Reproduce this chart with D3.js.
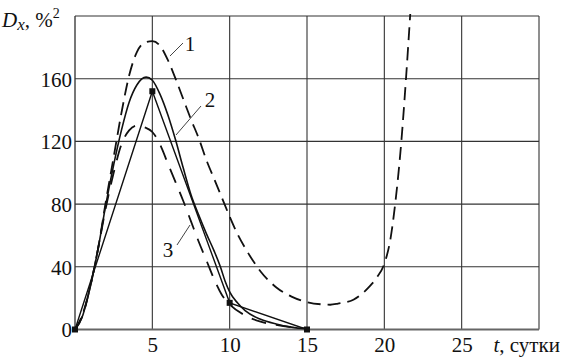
<!DOCTYPE html>
<html>
<head>
<meta charset="utf-8">
<script src="https://d3js.org/d3.v7.min.js"></script>
</head>
<body style="margin:0; background:#fff">
<svg id="chart" width="561" height="361"></svg>
<script>
// axis ticks
var xTicks = [5, 10, 15, 20, 25];
var yTicks = [0, 40, 80, 120, 160];
var xGrid = [0, 5, 10, 15, 20, 25, 30];
var yGrid = [0, 40, 80, 120, 160, 200];

// curve 1 (long dashes)
var t1 = [0, 0.5, 1, 1.5, 2, 2.5, 3, 3.5, 4, 4.5, 5, 5.5, 6, 6.5, 7, 7.5, 8, 8.5, 9, 9.5, 10, 10.5, 11, 11.5, 12, 13, 14, 15, 16, 16.5, 17, 18, 19, 19.5, 20, 20.4, 20.7, 21.1, 21.4, 21.7];
var d1 = [0, 10, 28, 52, 82, 110, 138, 162, 177, 183, 184, 181, 172, 160, 147, 134, 122, 108, 96, 84, 72, 61, 52, 44, 37, 27, 21, 17.5, 16, 15.8, 16.5, 19, 27, 33, 42, 58, 80, 120, 160, 205];

// curve 2 (solid, smooth)
var t2 = [0, 0.5, 1, 1.5, 2, 2.5, 3, 3.5, 4, 4.6, 5, 5.5, 6, 6.5, 7, 7.5, 8, 8.5, 9, 9.4, 9.7, 10, 10.5, 11, 12, 13, 14, 15];
var d2 = [0, 9, 28, 52, 80, 105, 127, 145, 156, 161, 159, 150, 137, 121, 103, 86, 73, 61, 50, 40, 31, 24, 17, 12, 6.5, 3.5, 1.5, 0.3];

// measured points (solid polyline with squares)
var tObs = [0, 5, 10, 15];
var dObs = [0, 152, 17, 0];

// curve 3 (short dashes)
var t3 = [0, 0.5, 1, 1.5, 2, 2.5, 3, 3.5, 4, 4.5, 5, 5.5, 6, 6.5, 7, 7.5, 8, 8.5, 9, 9.5, 10, 11, 12, 13, 14, 15];
var d3c = [0, 9, 28, 52, 78, 100, 118, 127, 130, 129, 126, 118, 106, 94, 82, 69, 56, 44, 32, 22, 16, 9, 5, 3, 1.5, 0.5];

// curve labels with leader lines (pixel positions)
var labels = [
  {name: '1', tx: 190, ty: 51, lx1: 170, ly1: 56, lx2: 183, ly2: 43},
  {name: '2', tx: 210, ty: 107, lx1: 176, ly1: 135, lx2: 201, ly2: 106},
  {name: '3', tx: 168, ty: 257, lx1: 177, ly1: 245, lx2: 190, ly2: 225}
];

var svg = d3.select('#chart');
var margin = {left: 75, top: 16, right: 22, bottom: 31.5};
var width = 561 - margin.left - margin.right,
    height = 361 - margin.top - margin.bottom;

var x = d3.scaleLinear().domain([0, 30]).range([0, width]);
var y = d3.scaleLinear().domain([0, 200]).range([height, 0]);

var g = svg.append('g')
  .attr('transform', 'translate(' + margin.left + ',' + margin.top + ')');

// grid
g.append('g').selectAll('line')
  .data(xGrid).enter().append('line')
  .attr('x1', function(d) { return x(d); }).attr('x2', function(d) { return x(d); })
  .attr('y1', 0).attr('y2', height)
  .attr('stroke', function(d) { return d == 0 ? '#777' : '#333'; })
  .attr('stroke-width', function(d) { return d == 0 ? 2 : 1.1; });

g.append('g').selectAll('line')
  .data(yGrid).enter().append('line')
  .attr('y1', function(d) { return y(d); }).attr('y2', function(d) { return y(d); })
  .attr('x1', 0).attr('x2', width)
  .attr('stroke', function(d) { return d == 0 ? '#666' : '#333'; })
  .attr('stroke-width', function(d) { return d == 0 ? 2 : 1.1; });

// axes (labels only)
var yAxis = g.append('g')
  .call(d3.axisLeft(y).tickValues(yTicks).tickSize(0).tickPadding(3));
yAxis.select('.domain').remove();
yAxis.selectAll('text').attr('dy', '0.35em');

var xAxis = g.append('g')
  .attr('transform', 'translate(0,' + height + ')')
  .call(d3.axisBottom(x).tickValues(xTicks).tickSize(0).tickPadding(8));
xAxis.select('.domain').remove();

// clip
svg.append('defs').append('clipPath').attr('id', 'clip')
  .append('rect').attr('x', 0).attr('y', -2).attr('width', width).attr('height', height + 2);

var plot = g.append('g').attr('clip-path', 'url(#clip)');

var smooth = d3.line().x(function(d) { return x(d[0]); }).y(function(d) { return y(d[1]); }).curve(d3.curveMonotoneX);
var straight = d3.line().x(function(d) { return x(d[0]); }).y(function(d) { return y(d[1]); });

plot.append('path')
  .datum(d3.zip(t1, d1))
  .attr('d', smooth)
  .attr('fill', 'none').attr('stroke', '#111').attr('stroke-width', 1.8)
  .attr('stroke-dasharray', '13,7');

plot.append('path')
  .datum(d3.zip(t3, d3c))
  .attr('d', smooth)
  .attr('fill', 'none').attr('stroke', '#111').attr('stroke-width', 1.8)
  .attr('stroke-dasharray', '15,10');

plot.append('path')
  .datum(d3.zip(t2, d2))
  .attr('d', smooth)
  .attr('fill', 'none').attr('stroke', '#111').attr('stroke-width', 1.6);

plot.append('path')
  .datum(d3.zip(tObs, dObs))
  .attr('d', straight)
  .attr('fill', 'none').attr('stroke', '#111').attr('stroke-width', 1.4);

g.selectAll('.mark')
  .data(d3.zip(tObs, dObs)).enter().append('rect')
  .attr('class', 'mark')
  .attr('x', function(d) { return x(d[0]) - 3; }).attr('y', function(d) { return y(d[1]) - 3; })
  .attr('width', 6).attr('height', 6)
  .attr('fill', '#111');

svg.selectAll('.leader')
  .data(labels).enter().append('line')
  .attr('class', 'leader')
  .attr('x1', function(d) { return d.lx1; }).attr('y1', function(d) { return d.ly1; })
  .attr('x2', function(d) { return d.lx2; }).attr('y2', function(d) { return d.ly2; })
  .attr('stroke', '#444').attr('stroke-width', 1);
svg.selectAll('.clabel')
  .data(labels).enter().append('text')
  .attr('class', 'clabel')
  .attr('x', function(d) { return d.tx; }).attr('y', function(d) { return d.ty; })
  .attr('text-anchor', 'middle')
  .text(function(d) { return d.name; });

// axis titles
var yt = svg.append('text').attr('class', 'title').attr('x', 2).attr('y', 27);
yt.append('tspan').style('font-style', 'italic').text('D');
yt.append('tspan').style('font-style', 'italic').style('font-size', '17px').attr('dy', 3).text('x');
yt.append('tspan').attr('dy', -3).text(', %');
yt.append('tspan').style('font-size', '14px').attr('dy', -9).text('2');

var xt = svg.append('text').attr('class', 'title').attr('x', 560).attr('y', 352)
  .attr('text-anchor', 'end');
xt.append('tspan').style('font-style', 'italic').text('t');
xt.append('tspan').text(', сутки');

// one font for every text, set last so nothing overrides it
svg.selectAll('text')
  .style('font-family', '"Liberation Serif"')
  .style('font-size', '21px')
  .style('fill', '#111');
svg.selectAll('tspan').filter(function() { return this.style.fontSize == ''; })
  .style('font-family', '"Liberation Serif"');
</script>
</body>
</html>
